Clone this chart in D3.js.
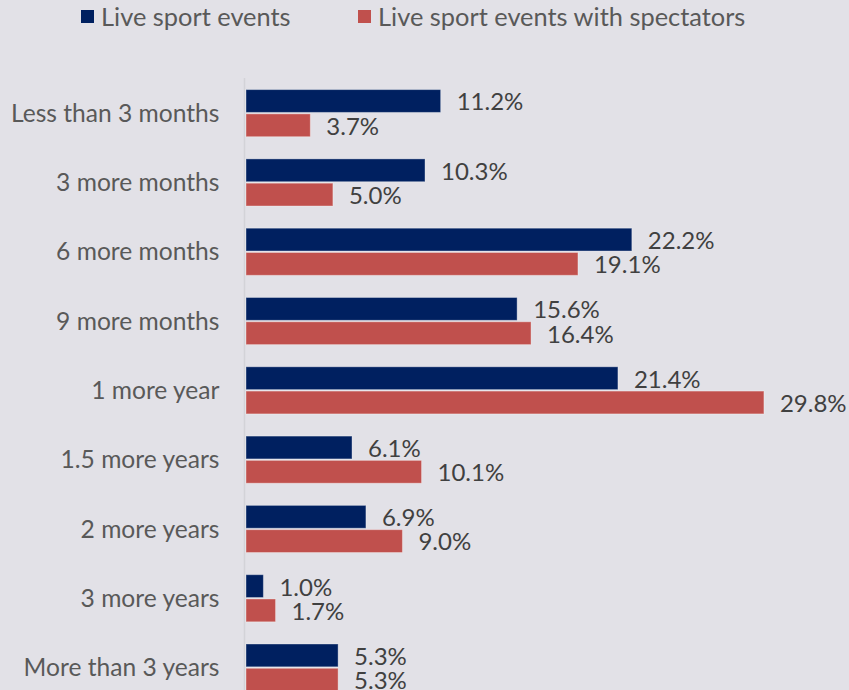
<!DOCTYPE html>
<html>
<head>
<meta charset="utf-8">
<script src="https://cdn.jsdelivr.net/npm/d3@7"></script>
<style>
  html, body { margin: 0; padding: 0; background: #e2e1e7; }
  svg { display: block; }
  text { font-family: Lato, "Open Sans", sans-serif; }
</style>
</head>
<body>
<svg id="chart" width="849" height="690"></svg>
<script>
// Time until people expect to attend events again (% of respondents)
const categories = [
  "Less than 3 months", "3 more months", "6 more months", "9 more months",
  "1 more year", "1.5 more years", "2 more years", "3 more years", "More than 3 years"
];
const seriesNames = ["Live sport events", "Live sport events with spectators"];
const liveEvents = [11.2, 10.3, 22.2, 15.6, 21.4, 6.1, 6.9, 1.0, 5.3];
const withSpectators = [3.7, 5.0, 19.1, 16.4, 29.8, 10.1, 9.0, 1.7, 5.3];
const seriesColors = ["#002060", "#c0504d"];

const series = [liveEvents, withSpectators];
const rows = categories.map((c, i) => ({
  category: c,
  values: series.map((s, k) => ({ key: seriesNames[k], value: s[i], color: seriesColors[k] }))
}));

const svg = d3.select("#chart");

const x = d3.scaleLinear().domain([0, 30]).range([246, 767.4]);
const y = d3.scaleBand()
  .domain(categories)
  .range([78.5, 78.5 + 9 * 69.3])
  .paddingInner(0.32)
  .paddingOuter(0.16);
const ySub = d3.scaleBand()
  .domain(seriesNames)
  .range([0, y.bandwidth()])
  .paddingInner(0.06);

// Category axis (left), line only
const yAxis = d3.axisLeft(y).tickSize(0).tickPadding(0);
const axisG = svg.append("g")
  .attr("transform", `translate(${x(0) - 1.5},0)`)
  .call(yAxis);
axisG.select(".domain")
  .attr("d", `M0,78V690`)
  .attr("stroke", "#d3d3d8")
  .attr("stroke-width", 1.5);
axisG.selectAll(".tick text")
  .attr("x", -25)
  .attr("dy", "0.35em")
  .attr("fill", "#595959")
  .style("font-size", "24.6px")
  .style("font-family", "Lato, 'Open Sans', sans-serif");

// Bars
const groups = svg.append("g").selectAll("g")
  .data(rows)
  .join("g")
  .attr("transform", d => `translate(0,${y(d.category)})`);

groups.selectAll("rect")
  .data(d => d.values)
  .join("rect")
  .attr("x", x(0))
  .attr("y", d => ySub(d.key))
  .attr("width", d => x(d.value) - x(0))
  .attr("height", ySub.bandwidth())
  .attr("fill", d => d.color)
  .attr("stroke", "rgba(255,255,255,0.35)")
  .attr("stroke-width", 1);

// Value labels
groups.selectAll("text")
  .data(d => d.values)
  .join("text")
  .attr("x", d => x(d.value) + 16)
  .attr("y", d => ySub(d.key) + ySub.bandwidth() / 2 + 1)
  .attr("dy", "0.35em")
  .attr("fill", "#404040")
  .style("font-size", "24px")
  .text(d => d.value.toFixed(1) + "%");

// Legend
const legendX = [81, 358];
const legend = svg.append("g").selectAll("g")
  .data(seriesNames)
  .join("g")
  .attr("transform", (d, i) => `translate(${legendX[i]},10)`);
legend.append("rect")
  .attr("width", 13).attr("height", 13)
  .attr("fill", (d, i) => seriesColors[i]);
legend.append("text")
  .attr("x", 20)
  .attr("y", 7)
  .attr("dy", "0.35em")
  .attr("fill", "#595959")
  .style("font-size", "25.4px")
  .text(d => d);
</script>
</body>
</html>
